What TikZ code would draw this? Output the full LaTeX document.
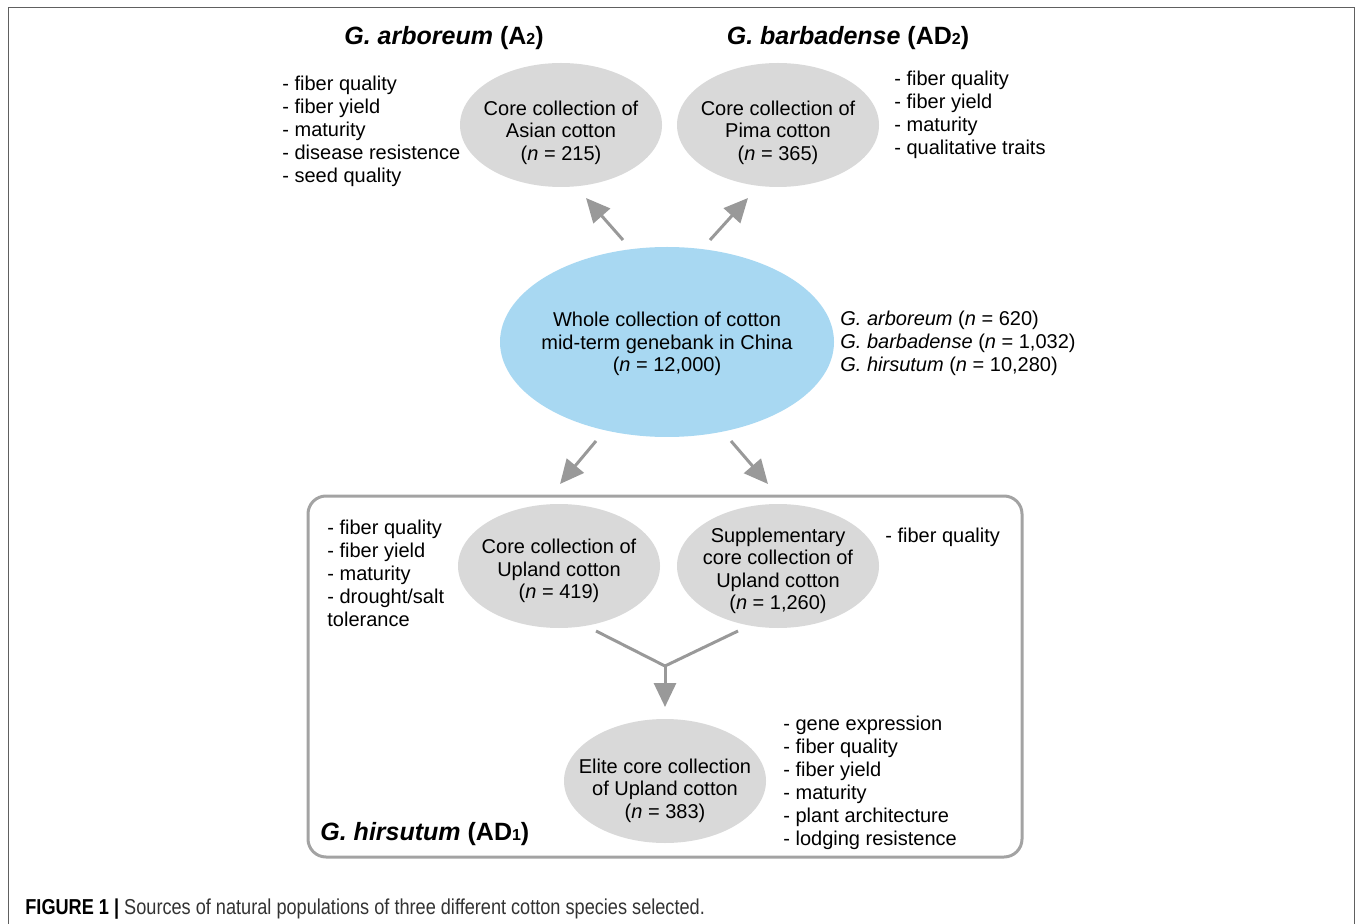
\documentclass[tikz,border=0pt]{standalone}
\usepackage{fontspec}
\setmainfont{Liberation Sans}
\newfontfamily\capfont[FakeStretch=0.84]{Liberation Sans}
\usetikzlibrary{shapes.geometric,arrows.meta,positioning}

\definecolor{ellgray}{HTML}{D9D9D9}
\definecolor{ellblue}{HTML}{A8D8F2}
\definecolor{arrgray}{HTML}{999999}
\definecolor{boxgray}{HTML}{A3A3A3}
\definecolor{framegray}{HTML}{606060}
\definecolor{captext}{HTML}{333333}

\newcommand\dn[1]{\rule{0pt}{#1}} % strut that pushes the text lower
\newcommand\ploidy[1]{{\fontsize{8}{8}\selectfont #1}} % small digit on the baseline

\begin{document}
\begin{tikzpicture}[x=0.5pt,y=-0.5pt]
\tikzset{%
  >={Triangle[length=12pt,width=11pt]}, % big flat heads
  core/.style={ellipse,fill=ellgray,minimum width=101pt,minimum height=62pt,
    inner xsep=-8pt,inner ysep=-4pt,align=center,
    font=\fontsize{10}{11.25}\selectfont},%
  traits/.style={anchor=north west,inner sep=0pt,align=left,
    font=\fontsize{10}{11.5}\selectfont},%
  species/.style={inner sep=0pt,font=\fontsize{12.5}{14}\selectfont\bfseries},%
  flow/.style={->,draw=arrgray,fill=arrgray,line width=1.5pt}%
}
%% page and frame

\useasboundingbox (0,0) rectangle (1358,924);
\draw[framegray,line width=0.5pt] (8,940) -- (8,8) -- (1354,8) -- (1354,940);

%% collections

\node[core] (asian) at (561,125)
  {\dn{15pt}Core collection of\\Asian cotton\\(\textit{n} = 215)};
\node[core] (pima) at (778,125)
  {\dn{15pt}Core collection of\\Pima cotton\\(\textit{n} = 365)};
\node[core,fill=ellblue,minimum width=167pt,minimum height=95pt] (whole) at (667,342)
  {\dn{9.3pt}Whole collection of cotton\\mid-term genebank in China\\(\textit{n} = 12,000)};
\node[core] (upland) at (559,566)
  {\dn{12.5pt}Core collection of\\Upland cotton\\(\textit{n} = 419)};
\node[core] (supp) at (778,566)
  {\dn{12pt}Supplementary\\core collection of\\Upland cotton\\(\textit{n} = 1,260)};
\node[core] (elite) at (665,781)
  {\dn{17pt}Elite core collection\\of Upland cotton\\(\textit{n} = 383)};

%% species titles

\node[species] (arbt) at (444,38) {\textit{G. arboreum} (A\ploidy{2})};
\node[species] (barbt) at (848,38) {\textit{G. barbadense} (AD\ploidy{2})};
\node[species,anchor=west] (hirst) at (320,834) {\textit{G. hirsutum} (AD\ploidy{1})};

%% trait lists

\node[traits] (arbtr) at (282,76) {- fiber quality\\- fiber yield\\- maturity\\
  - disease resistence\\- seed quality};
\node[traits] (barbtr) at (894,71) {- fiber quality\\- fiber yield\\- maturity\\
  - qualitative traits};
\node[traits] (counts) at (840,311) {\textit{G. arboreum} (\textit{n} = 620)\\
  \textit{G. barbadense} (\textit{n} = 1,032)\\\textit{G. hirsutum} (\textit{n} = 10,280)};
\node[traits] (uptr) at (327,520) {- fiber quality\\- fiber yield\\- maturity\\
  - drought/salt\\tolerance};
\node[traits] (supptr) at (885,528) {- fiber quality};
\node[traits] (elitetr) at (783,716) {- gene expression\\- fiber quality\\- fiber yield\\
  - maturity\\- plant architecture\\- lodging resistence};

%% hirsutum box

\draw[boxgray,line width=1.5pt,rounded corners=9pt] (308,496) rectangle (1022,857);

%% arrows

\coordinate (upL) at (623,240);
\coordinate (upLtip) at (586,198);
\coordinate (upR) at (710,240);
\coordinate (upRtip) at (748,198);
\coordinate (dnL) at (596,441);
\coordinate (dnLtip) at (560,484);
\coordinate (dnR) at (731,441);
\coordinate (dnRtip) at (768,484);
\coordinate (fromUp) at (596,631);
\coordinate (fromSupp) at (738,631);
\coordinate (join) at (665,666);
\coordinate (joinTip) at (665,707);

\draw[flow] (upL) -- (upLtip);
\draw[flow] (upR) -- (upRtip);
\draw[flow] (dnL) -- (dnLtip);
\draw[flow] (dnR) -- (dnRtip);
\draw[arrgray,line width=1.5pt] (fromUp) -- (join) -- (fromSupp);
\draw[flow] (join) -- (joinTip);

%% caption

\node[anchor=west,inner sep=0pt,text=captext,font=\capfont\fontsize{10.8}{12}\selectfont]
  (caption) at (25,909) {\textcolor{black}{\textbf{FIGURE 1 |}} Sources of natural
  populations of three different cotton species selected.};
\end{tikzpicture}
\end{document}
